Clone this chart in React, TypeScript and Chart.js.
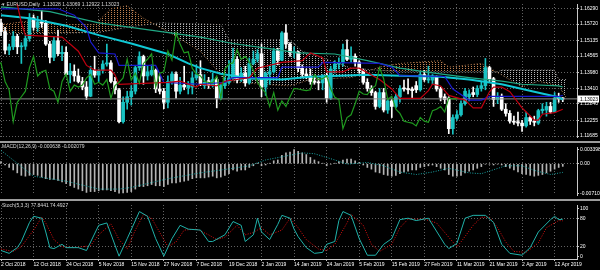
import React, { useEffect, useRef } from 'react';
import { Chart, registerables } from 'chart.js';

Chart.register(...registerables);

// ---------- data ----------
const dateLabels = ['2 Oct 2018', '12 Oct 2018', '24 Oct 2018', '5 Nov 2018', '15 Nov 2018', '27 Nov 2018', '7 Dec 2018', '19 Dec 2018', '2 Jan 2019', '14 Jan 2019', '24 Jan 2019', '5 Feb 2019', '15 Feb 2019', '27 Feb 2019', '11 Mar 2019', '21 Mar 2019', '2 Apr 2019', '12 Apr 2019'];

const openP = [1.1576, 1.1545, 1.1478, 1.1490, 1.1528, 1.1490, 1.1492, 1.1520, 1.1595, 1.1560,
  1.1580, 1.1575, 1.1500, 1.1452, 1.1512, 1.1465, 1.1470, 1.1390, 1.1402, 1.1385,
  1.1365, 1.1345, 1.1312, 1.1405, 1.1388, 1.1405, 1.1428, 1.1432, 1.1365, 1.1335,
  1.1220, 1.1290, 1.1310, 1.1330, 1.1415, 1.1455, 1.1385, 1.1390, 1.1405, 1.1338,
  1.1330, 1.1290, 1.1365, 1.1392, 1.1330, 1.1352, 1.1343, 1.1345, 1.1378, 1.1390,
  1.1350, 1.1368, 1.1350, 1.1372, 1.1305, 1.1350, 1.1362, 1.1378, 1.1445, 1.1370,
  1.1395, 1.1360, 1.1430, 1.1445, 1.1465, 1.1345, 1.1392, 1.1400, 1.1475, 1.1442,
  1.1540, 1.1500, 1.1468, 1.1472, 1.1412, 1.1392, 1.1385, 1.1367, 1.1362, 1.1360,
  1.1385, 1.1305, 1.1410, 1.1428, 1.1432, 1.1480, 1.1445, 1.1456, 1.1435, 1.1405,
  1.1362, 1.1340, 1.1325, 1.1275, 1.1325, 1.1262, 1.1295, 1.1275, 1.1310, 1.1342,
  1.1340, 1.1338, 1.1350, 1.1335, 1.1390, 1.1370, 1.1370, 1.1380, 1.1338, 1.1310,
  1.1305, 1.1195, 1.1232, 1.1245, 1.1285, 1.1310, 1.1325, 1.1318, 1.1340, 1.1350,
  1.1415, 1.1375, 1.1300, 1.1312, 1.1265, 1.1250, 1.1222, 1.1220, 1.1215, 1.1205,
  1.1235, 1.1222, 1.1215, 1.1260, 1.1262, 1.1275, 1.1255, 1.1305, 1.13028];

const highP = [1.1590, 1.1560, 1.1500, 1.1545, 1.1535, 1.1505, 1.1530, 1.1610, 1.1605, 1.1600,
  1.1620, 1.1585, 1.1510, 1.1525, 1.1550, 1.1493, 1.1490, 1.1430, 1.1425, 1.1410,
  1.1380, 1.1365, 1.1420, 1.1456, 1.1410, 1.1440, 1.1500, 1.1440, 1.1380, 1.1340,
  1.1310, 1.1330, 1.1350, 1.1420, 1.1472, 1.1460, 1.1420, 1.1425, 1.1410, 1.1385,
  1.1340, 1.1385, 1.1400, 1.1400, 1.1380, 1.1420, 1.1365, 1.1400, 1.1425, 1.1440,
  1.1390, 1.1380, 1.1395, 1.1380, 1.1355, 1.1380, 1.1440, 1.1485, 1.1455, 1.1415,
  1.1420, 1.1450, 1.1475, 1.1480, 1.1500, 1.1400, 1.1420, 1.1485, 1.1485, 1.1545,
  1.1570, 1.1505, 1.1490, 1.1475, 1.1425, 1.1410, 1.1410, 1.1380, 1.1375, 1.1390,
  1.1395, 1.1420, 1.1440, 1.1450, 1.1500, 1.1515, 1.1490, 1.1465, 1.1440, 1.1410,
  1.1375, 1.1350, 1.1330, 1.1340, 1.1340, 1.1305, 1.1300, 1.1320, 1.1350, 1.1370,
  1.1375, 1.1345, 1.1365, 1.1400, 1.1405, 1.1420, 1.1390, 1.1385, 1.1345, 1.1320,
  1.1310, 1.1245, 1.1260, 1.1295, 1.1340, 1.1335, 1.1345, 1.1350, 1.1365, 1.1448,
  1.1420, 1.1380, 1.1325, 1.1320, 1.1285, 1.1260, 1.1240, 1.1255, 1.1225, 1.1255,
  1.1240, 1.1240, 1.1265, 1.1285, 1.1290, 1.1290, 1.1325, 1.1323, 1.13069];

const lowP = [1.1530, 1.1464, 1.1462, 1.1480, 1.1465, 1.1430, 1.1480, 1.1510, 1.1550, 1.1545,
  1.1560, 1.1495, 1.1432, 1.1440, 1.1458, 1.1440, 1.1385, 1.1360, 1.1366, 1.1360,
  1.1335, 1.1300, 1.1310, 1.1380, 1.1365, 1.1395, 1.1420, 1.1360, 1.1320, 1.1216,
  1.1215, 1.1265, 1.1280, 1.1320, 1.1405, 1.1355, 1.1370, 1.1385, 1.1325, 1.1320,
  1.1267, 1.1270, 1.1355, 1.1305, 1.1320, 1.1335, 1.1320, 1.1320, 1.1370, 1.1350,
  1.1340, 1.1340, 1.1345, 1.1270, 1.1300, 1.1340, 1.1355, 1.1370, 1.1360, 1.1365,
  1.1348, 1.1355, 1.1425, 1.1435, 1.1310, 1.1315, 1.1355, 1.1395, 1.1425, 1.1440,
  1.1485, 1.1455, 1.1450, 1.1400, 1.1380, 1.1375, 1.1355, 1.1355, 1.1335, 1.1335,
  1.1290, 1.1300, 1.1395, 1.1410, 1.1420, 1.1440, 1.1435, 1.1420, 1.1395, 1.1355,
  1.1330, 1.1315, 1.1265, 1.1270, 1.1255, 1.1250, 1.1235, 1.1270, 1.1290, 1.1330,
  1.1320, 1.1305, 1.1325, 1.1330, 1.1365, 1.1360, 1.1355, 1.1330, 1.1295, 1.1285,
  1.1177, 1.1175, 1.1225, 1.1240, 1.1280, 1.1295, 1.1310, 1.1310, 1.1330, 1.1335,
  1.1365, 1.1275, 1.1285, 1.1260, 1.1240, 1.1215, 1.1210, 1.1205, 1.1185, 1.1200,
  1.1210, 1.1205, 1.1210, 1.1250, 1.1240, 1.1250, 1.1255, 1.1290, 1.12922];

const closeP = [1.1545, 1.1478, 1.1490, 1.1528, 1.1490, 1.1492, 1.1520, 1.1595, 1.1560, 1.1580,
  1.1575, 1.1500, 1.1452, 1.1512, 1.1465, 1.1470, 1.1390, 1.1402, 1.1385, 1.1365,
  1.1345, 1.1312, 1.1405, 1.1388, 1.1405, 1.1428, 1.1432, 1.1365, 1.1335, 1.1220,
  1.1290, 1.1310, 1.1330, 1.1415, 1.1455, 1.1385, 1.1400, 1.1405, 1.1338, 1.1330,
  1.1290, 1.1365, 1.1392, 1.1330, 1.1352, 1.1345, 1.1352, 1.1378, 1.1390, 1.1355,
  1.1362, 1.1352, 1.1372, 1.1305, 1.1350, 1.1362, 1.1378, 1.1445, 1.1370, 1.1395,
  1.1360, 1.1430, 1.1445, 1.1465, 1.1345, 1.1395, 1.1400, 1.1475, 1.1442, 1.1540,
  1.1500, 1.1468, 1.1472, 1.1412, 1.1392, 1.1385, 1.1365, 1.1362, 1.1360, 1.1385,
  1.1305, 1.1410, 1.1428, 1.1432, 1.1480, 1.1445, 1.1456, 1.1435, 1.1405, 1.1362,
  1.1340, 1.1325, 1.1275, 1.1325, 1.1262, 1.1295, 1.1275, 1.1310, 1.1340, 1.1338,
  1.1335, 1.1332, 1.1335, 1.1390, 1.1372, 1.1375, 1.1385, 1.1338, 1.1308, 1.1300,
  1.1195, 1.1235, 1.1245, 1.1285, 1.1330, 1.1320, 1.1318, 1.1340, 1.1350, 1.1415,
  1.1375, 1.1300, 1.1312, 1.1265, 1.1250, 1.1222, 1.1218, 1.1215, 1.1205, 1.1235,
  1.1222, 1.1218, 1.1260, 1.1265, 1.1275, 1.1255, 1.1305, 1.1302, 1.13023];

const priceTicks = [1.16290, 1.15720, 1.15135, 1.14565, 1.13980, 1.13410, 1.12840, 1.12255, 1.11685];
const lastPrice = 1.13023;

// [bar index, value] vertices
const maFast = [[0, 1.1604], [7, 1.1593], [16, 1.1566], [24, 1.1532], [32, 1.1502], [41, 1.1464], [46, 1.1430], [49, 1.1413], [54, 1.1393], [61, 1.1376], [69, 1.1372], [76, 1.1382], [83, 1.1386], [90, 1.1389], [98, 1.1386], [108, 1.1382], [115, 1.1372], [123, 1.1355], [131, 1.1328], [137, 1.1308], [138, 1.1300]];
const maSlow = [[0, 1.1634], [12, 1.1617], [24, 1.1576], [49, 1.1525], [57, 1.1502], [65, 1.1485], [73, 1.1468], [82, 1.1464], [90, 1.1440], [98, 1.1413], [106, 1.1396], [115, 1.1379], [123, 1.1366], [128, 1.1355], [137, 1.1349], [138, 1.1345]];
const kijun = [[0, 1.1627], [14, 1.1627], [18, 1.1604], [21, 1.1559], [22, 1.1508], [24, 1.1468], [28, 1.1464], [29, 1.1423], [38, 1.1423], [40, 1.1362], [49, 1.1355], [55, 1.1362], [57, 1.1379], [68, 1.1379], [69, 1.1417], [78, 1.1417], [79, 1.1434], [93, 1.1430], [96, 1.1417], [98, 1.1386], [109, 1.1383], [111, 1.1338], [115, 1.1298], [118, 1.1298], [120, 1.1311], [137, 1.1311], [138, 1.1315]];
const tenkan = [[0, 1.1678], [4, 1.1644], [5, 1.1576], [6, 1.1532], [15, 1.1525], [19, 1.1474], [21, 1.1423], [23, 1.1406], [27, 1.1406], [28, 1.1389], [29, 1.1355], [41, 1.1362], [44, 1.1366], [48, 1.1345], [49, 1.1355], [53, 1.1349], [55, 1.1366], [61, 1.1379], [63, 1.1413], [69, 1.1434], [74, 1.1440], [76, 1.1468], [79, 1.1451], [80, 1.1400], [84, 1.1400], [86, 1.1413], [88, 1.1413], [93, 1.1372], [96, 1.1338], [98, 1.1304], [103, 1.1304], [105, 1.1332], [106, 1.1355], [108, 1.1349], [110, 1.1315], [114, 1.1298], [116, 1.1270], [118, 1.1270], [120, 1.1328], [121, 1.1345], [123, 1.1345], [125, 1.1328], [128, 1.1270], [131, 1.1226], [132, 1.1226], [133, 1.1247], [136, 1.1253], [138, 1.1265]];
const senkouA = [[0, 1.1570], [7, 1.1583], [15, 1.1570], [23, 1.1570], [27, 1.1627], [31, 1.1638], [35, 1.1593], [42, 1.1536], [49, 1.1474], [53, 1.1406], [55, 1.1366], [64, 1.1355], [71, 1.1349], [76, 1.1372], [86, 1.1379], [93, 1.1417], [98, 1.1430], [108, 1.1440], [110, 1.1417], [118, 1.1430], [123, 1.1389], [128, 1.1345], [132, 1.1366], [137, 1.1349], [139, 1.1304]];
const senkouB = [[0, 1.1536], [24, 1.1542], [32, 1.1563], [39, 1.1576], [54, 1.1570], [56, 1.1515], [71, 1.1515], [74, 1.1474], [81, 1.1440], [86, 1.1413], [98, 1.1400], [122, 1.1400], [123, 1.1406], [136, 1.1406], [137, 1.1372], [139, 1.1372]];

const macdHist = [0.0005, -0.0003, -0.0009, -0.0015, -0.0022, -0.0028, -0.0030, -0.0028, -0.0026, -0.0028,
  -0.0032, -0.0036, -0.0038, -0.0038, -0.0040, -0.0044, -0.0048, -0.0053, -0.0057, -0.0061,
  -0.0065, -0.0069, -0.0067, -0.0067, -0.0065, -0.0063, -0.0063, -0.0065, -0.0067, -0.0071,
  -0.0070, -0.0069, -0.0067, -0.0061, -0.0055, -0.0055, -0.0053, -0.0050, -0.0053, -0.0053,
  -0.0055, -0.0050, -0.0046, -0.0046, -0.0044, -0.0042, -0.0040, -0.0036, -0.0034, -0.0034,
  -0.0034, -0.0032, -0.0030, -0.0034, -0.0032, -0.0028, -0.0024, -0.0015, -0.0018, -0.0015,
  -0.0015, -0.0009, -0.0005, 0.0001, -0.0005, -0.0003, 0.0001, 0.0007, 0.0009, 0.0020,
  0.0026, 0.0028, 0.0034, 0.0030, 0.0026, 0.0022, 0.0015, 0.0009, 0.0005, 0.0001,
  -0.0005, -0.0001, 0.0001, 0.0005, 0.0009, 0.0011, 0.0011, 0.0007, 0.0003, -0.0003,
  -0.0009, -0.0013, -0.0020, -0.0022, -0.0026, -0.0028, -0.0030, -0.0028, -0.0024, -0.0020,
  -0.0018, -0.0015, -0.0015, -0.0009, -0.0007, -0.0005, -0.0003, -0.0007, -0.0011, -0.0015,
  -0.0026, -0.0030, -0.0030, -0.0028, -0.0022, -0.0018, -0.0015, -0.0011, -0.0007, -0.0001,
  -0.0001, -0.0003, -0.0001, -0.0003, -0.0007, -0.0011, -0.0015, -0.0020, -0.0024, -0.0026,
  -0.0028, -0.0030, -0.0028, -0.0026, -0.0022, -0.0018, -0.0013, -0.0009, -0.000638];
const macdSignal = [[0, 0.0032], [8, -0.0030], [16, -0.0042], [24, -0.0061], [29, -0.0061], [32, -0.0057], [41, -0.0036], [49, -0.0022], [57, -0.0011], [61, -0.0005], [65, 0.0009], [74, 0.0026], [77, 0.0024], [82, 0.0009], [85, -0.0001], [90, 0.0003], [94, -0.0005], [98, -0.0020], [102, -0.0026], [106, -0.0020], [110, -0.0011], [115, -0.0022], [118, -0.0024], [124, -0.0005], [128, -0.0005], [131, -0.0016], [135, -0.0026], [138, -0.002079]];
const macdTicks = [0.003398, 0, -0.007101];

const stochK = [[0, 12], [2, 6], [4, 18], [5, 31], [7, 71], [8, 84], [10, 80], [11, 51], [12, 18], [13, 16], [15, 25], [16, 18], [19, 18], [21, 12], [24, 65], [26, 70], [29, 0], [31, 37], [34, 94], [36, 84], [38, 37], [40, 0], [42, 37], [44, 65], [46, 57], [49, 55], [51, 31], [52, 31], [55, 45], [57, 73], [59, 65], [60, 31], [62, 45], [63, 80], [64, 51], [66, 35], [68, 67], [69, 86], [71, 80], [72, 57], [73, 41], [75, 18], [77, 6], [79, 8], [80, 25], [82, 31], [83, 75], [84, 94], [86, 86], [88, 37], [90, 2], [92, 2], [94, 25], [96, 37], [98, 77], [100, 80], [102, 75], [105, 80], [109, 25], [110, 16], [112, 27], [114, 80], [116, 86], [119, 86], [121, 71], [123, 25], [125, 6], [128, 2], [130, 18], [132, 51], [135, 77], [136, 84], [137, 77], [138, 77.8441]];
const stochD = [[0, 15], [3, 10], [5, 20], [8, 55], [10, 82], [11, 70], [13, 35], [15, 20], [18, 18], [22, 22], [24, 45], [27, 68], [29, 35], [31, 15], [33, 55], [35, 88], [37, 80], [39, 50], [41, 20], [43, 30], [45, 55], [48, 57], [51, 45], [53, 35], [55, 40], [58, 65], [60, 45], [62, 50], [64, 60], [66, 45], [69, 55], [71, 80], [73, 60], [75, 35], [78, 15], [80, 12], [82, 25], [85, 70], [86, 88], [89, 65], [91, 25], [93, 10], [96, 25], [98, 60], [100, 78], [104, 78], [107, 70], [110, 40], [112, 20], [113, 30], [116, 65], [118, 82], [120, 82], [122, 60], [124, 30], [126, 10], [129, 8], [132, 28], [134, 60], [137, 75], [138, 74.4927]];
const stochTicks = [100, 80, 20, 0];

// ---------- styling ----------
const FONT = '"Liberation Sans", Arial, sans-serif';
const GRID = '#626262';
const AXIS = '#c8c8c8';
const TEXT = '#ffffff';
const X_MIN = -0.246;
const X_MAX = 141.5;
const AXIS_W = 23;

const pts = (a: number[][]) => a.map(([x, y]) => ({ x, y }));

function makePattern(color: string) {
  const c = document.createElement('canvas');
  c.width = 3;
  c.height = 2;
  const g = c.getContext('2d')!;
  g.fillStyle = color;
  g.fillRect(0, 0, 1, 1);
  return g.createPattern(c, 'repeat')!;
}

function xScale(showLabels: boolean): any {
  return {
    type: 'linear',
    min: X_MIN,
    max: X_MAX,
    offset: false,
    afterBuildTicks: (s: any) => {
      s.ticks = dateLabels.map((_, i) => ({ value: i * 8 }));
    },
    afterFit: (s: any) => {
      s.height = showLabels ? 11 : 0;
    },
    grid: { color: GRID, lineWidth: 1, offset: false, drawTicks: showLabels, tickLength: 2, tickColor: AXIS },
    border: { display: showLabels, color: AXIS, width: 1, dash: [1, 2] },
    ticks: {
      display: showLabels,
      autoSkip: false,
      maxRotation: 0,
      minRotation: 0,
      align: 'start',
      padding: 1,
      color: TEXT,
      font: { family: FONT, size: 5 },
      callback: (v: number) => dateLabels[Math.round(v / 8)] ?? '',
    },
  };
}

function yScale(min: number, max: number, ticks: number[], fmt: (v: number) => string, gridAt: (v: number) => boolean): any {
  return {
    type: 'linear',
    position: 'right',
    min,
    max,
    afterBuildTicks: (s: any) => {
      s.ticks = ticks.map((v) => ({ value: v }));
    },
    afterFit: (s: any) => {
      s.width = AXIS_W;
    },
    grid: {
      color: (ctx: any) => (ctx.tick && gridAt(ctx.tick.value) ? GRID : 'rgba(0,0,0,0)'),
      lineWidth: 1,
      drawTicks: true,
      tickLength: 2,
      tickColor: AXIS,
    },
    border: { display: true, color: AXIS, width: 1, dash: [1, 2] },
    ticks: {
      autoSkip: false,
      crossAlign: 'near',
      padding: 1,
      color: TEXT,
      font: { family: FONT, size: 5 },
      callback: (v: number) => fmt(v),
    },
  };
}

const baseOptions: any = {
  animation: false,
  responsive: false,
  maintainAspectRatio: false,
  devicePixelRatio: 1,
  events: [],
  layout: { padding: 0, autoPadding: false },
  plugins: { legend: { display: false }, tooltip: { enabled: false } },
};

export default function App() {
  const mainRef = useRef<HTMLCanvasElement>(null);
  const macdRef = useRef<HTMLCanvasElement>(null);
  const stochRef = useRef<HTMLCanvasElement>(null);

  useEffect(() => {
    const idx = closeP.map((_, i) => i);
    const colors = idx.map((i) => (closeP[i] >= openP[i] ? '#19c3c3' : '#ffffff'));
    const patA = makePattern('#c0804e');
    const patB = makePattern('#b4b4b4');

    const priceBox = {
      id: 'priceBox',
      afterDraw(chart: any) {
        const y = chart.scales.y.getPixelForValue(lastPrice);
        const ctx = chart.ctx;
        ctx.save();
        ctx.fillStyle = '#ffffff';
        ctx.fillRect(578, Math.round(y) - 3.5, 21, 7);
        ctx.fillStyle = '#000000';
        ctx.font = `5px ${FONT}`;
        ctx.textBaseline = 'middle';
        ctx.fillText(lastPrice.toFixed(5), 580, y + 0.5);
        ctx.restore();
      },
    };

    const main = new Chart(mainRef.current!, {
      type: 'bar',
      data: {
        datasets: [
          { type: 'line', label: 'Senkou A', data: pts(senkouA), borderColor: '#a8744a', borderWidth: 1, borderDash: [1, 2], pointRadius: 0, fill: { target: '+1', above: patA, below: patB }, order: 20, clip: 0 } as any,
          { type: 'line', label: 'Senkou B', data: pts(senkouB), borderColor: '#9a9a9a', borderWidth: 1, borderDash: [1, 2], pointRadius: 0, fill: false, order: 21, clip: 0 } as any,
          { type: 'bar', label: 'Wicks', data: idx.map((i) => ({ x: i, y: [lowP[i], highP[i]] })), backgroundColor: colors, barThickness: 1, grouped: false, order: 11 } as any,
          { type: 'bar', label: 'Bodies', data: idx.map((i) => ({ x: i, y: [Math.min(openP[i], closeP[i]), Math.max(openP[i], closeP[i])] })), backgroundColor: colors, barThickness: 3, minBarLength: 1, grouped: false, order: 10 } as any,
          { type: 'line', label: 'Price', data: [{ x: X_MIN - 1, y: lastPrice }, { x: X_MAX + 1, y: lastPrice }], borderColor: '#8c8c8c', borderWidth: 1, pointRadius: 0, order: 9, clip: 0 } as any,
          { type: 'line', label: 'MA slow', data: pts(maSlow), borderColor: '#20a884', borderWidth: 1.2, pointRadius: 0, order: 5, clip: 0 } as any,
          { type: 'line', label: 'MA fast', data: pts(maFast), borderColor: '#10c8d4', borderWidth: 2, pointRadius: 0, order: 4, clip: 0 } as any,
          { type: 'line', label: 'Kijun', data: pts(kijun), borderColor: '#1a1ad0', borderWidth: 1.2, pointRadius: 0, order: 3, clip: 0 } as any,
          { type: 'line', label: 'Tenkan', data: pts(tenkan), borderColor: '#c00010', borderWidth: 1.2, pointRadius: 0, order: 2, clip: 0 } as any,
          { type: 'line', label: 'Chikou', data: closeP.slice(25).map((c, k) => ({ x: k - 1, y: c })), borderColor: '#1f9a1f', borderWidth: 1.2, pointRadius: 0, order: 1, clip: 0 } as any,
        ],
      },
      options: {
        ...baseOptions,
        scales: {
          x: xScale(false),
          y: yScale(1.11649, 1.16443, priceTicks, (v) => v.toFixed(5), () => true),
        },
      },
      plugins: [priceBox],
    });

    const macd = new Chart(macdRef.current!, {
      type: 'bar',
      data: {
        datasets: [
          { type: 'line', label: 'Signal', data: pts(macdSignal), borderColor: '#1aa6a6', borderWidth: 1, borderDash: [1, 1.5], pointRadius: 0, order: 1, clip: 0 } as any,
          { type: 'bar', label: 'MACD', data: macdHist.map((v, i) => ({ x: i, y: v })), backgroundColor: '#b4b4b4', barThickness: 1, grouped: false, order: 2 } as any,
        ],
      },
      options: {
        ...baseOptions,
        scales: {
          x: xScale(false),
          y: yScale(-0.00752, 0.004017, macdTicks, (v) => (v === 0 ? '0.00' : v.toFixed(6)), (v) => v === 0),
        },
      },
    });

    const stoch = new Chart(stochRef.current!, {
      type: 'line',
      data: {
        datasets: [
          { label: '%K', data: pts(stochK), borderColor: '#20b2aa', borderWidth: 1, pointRadius: 0, clip: 0 } as any,
          { label: '%D', data: pts(stochD), borderColor: '#e01010', borderWidth: 1, borderDash: [1, 1.5], pointRadius: 0, clip: 0 } as any,
        ],
      },
      options: {
        ...baseOptions,
        scales: {
          x: xScale(true),
          y: yScale(-5.9, 107.8, stochTicks, (v) => String(v), (v) => v === 80 || v === 20),
        },
      },
    });

    return () => {
      main.destroy();
      macd.destroy();
      stoch.destroy();
    };
  }, []);

  const label: React.CSSProperties = {
    position: 'absolute',
    fontFamily: FONT,
    fontSize: 5,
    lineHeight: '6px',
    color: '#d8d8d8',
    whiteSpace: 'pre',
    pointerEvents: 'none',
  };

  return (
    <div style={{ position: 'fixed', left: 0, top: 0, width: 600, height: 270, background: '#000', overflow: 'hidden' }}>
      <canvas ref={mainRef} width={600} height={141} style={{ position: 'absolute', left: 0, top: 0 }} />
      <div style={{ position: 'absolute', left: 0, top: 141, width: 600, height: 2, background: '#9c9c9c' }} />
      <canvas ref={macdRef} width={600} height={56} style={{ position: 'absolute', left: 0, top: 143 }} />
      <div style={{ position: 'absolute', left: 0, top: 199, width: 600, height: 2, background: '#9c9c9c' }} />
      <canvas ref={stochRef} width={600} height={69} style={{ position: 'absolute', left: 0, top: 201 }} />
      <div style={{ ...label, left: 2, top: 1 }}>{'\u25BE EURUSD,Daily  1.13028 1.13069 1.12922 1.13023'}</div>
      <div style={{ ...label, left: 2, top: 143 }}>{'MACD(12,26,9) -0.000638 -0.002079'}</div>
      <div style={{ ...label, left: 2, top: 202 }}>{'Stoch(5,3,3) 77.8441 74.4927'}</div>
    </div>
  );
}
